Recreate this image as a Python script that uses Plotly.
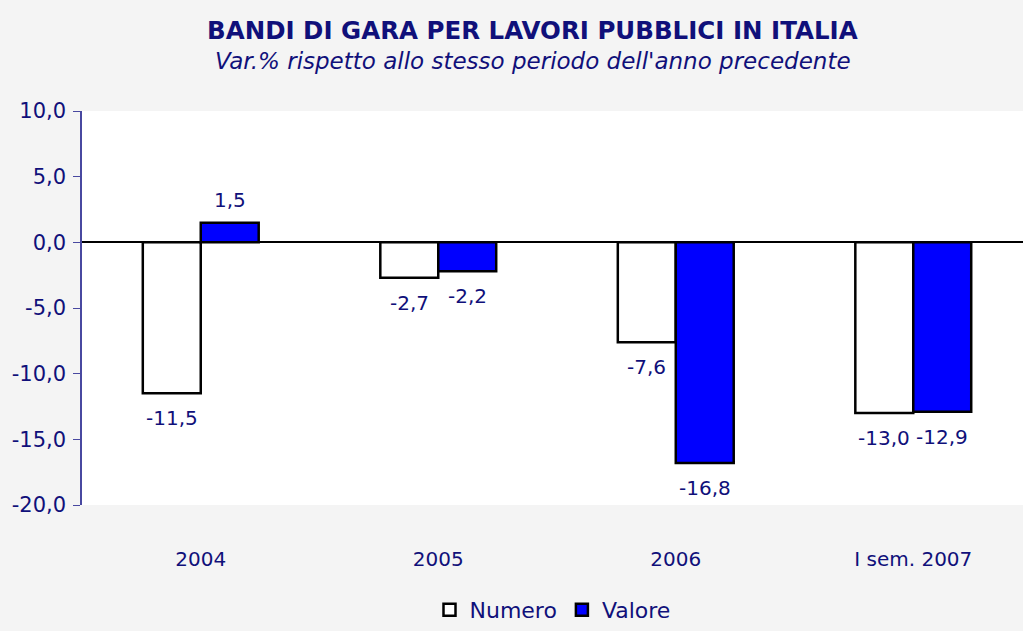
import plotly.graph_objects as go

categories = ["2004", "2005", "2006", "I sem. 2007"]
numero = [-11.5, -2.7, -7.6, -13.0]
valore = [1.5, -2.2, -16.8, -12.9]
y_ticks = [10, 5, 0, -5, -10, -15, -20]
y_tick_labels = ["10,0", "5,0", "0,0", "-5,0", "-10,0", "-15,0", "-20,0"]

NAVY = "#10107a"
FONT = "DejaVu Sans, Verdana, sans-serif"

fig = go.Figure()
fig.add_trace(go.Bar(
    x=categories, y=numero, name="Numero",
    marker=dict(color="white", line=dict(color="black", width=2.5)),
))
fig.add_trace(go.Bar(
    x=categories, y=valore, name="Valore",
    marker=dict(color="#0000ff", line=dict(color="black", width=2.5)),
))

# data labels (x given as category index)
for series, xshift in ((numero, -29), (valore, 29)):
    for i, v in enumerate(series):
        fig.add_annotation(
            x=i, y=v, xref="x", yref="y", showarrow=False,
            text=f"{v:.1f}".replace(".", ","),
            xshift=xshift, yshift=(23 if v >= 0 else -25), yanchor="middle",
            font=dict(size=20, color=NAVY, family=FONT),
        )

fig.add_annotation(
    x=0.479, y=1.205, xref="paper", yref="paper", showarrow=False,
    text="<b>BANDI DI GARA PER LAVORI PUBBLICI IN ITALIA</b>",
    font=dict(size=24.5, color=NAVY, family=FONT), yanchor="middle",
)
fig.add_annotation(
    x=0.479, y=1.127, xref="paper", yref="paper", showarrow=False,
    text="<i>Var.% rispetto allo stesso periodo dell'anno precedente</i>",
    font=dict(size=23, color=NAVY, family=FONT), yanchor="middle",
)

fig.update_layout(
    width=1023, height=631,
    separators=",.",
    barmode="group", bargap=0.512, bargroupgap=0,
    paper_bgcolor="#f4f4f4", plot_bgcolor="white",
    margin=dict(l=82, r=0, t=111, b=126, autoexpand=False),
    font=dict(family=FONT, color=NAVY),
    legend=dict(
        orientation="h", x=0.5, xanchor="center",
        yref="container", y=0.0, yanchor="bottom",
        font=dict(size=22, color=NAVY, family=FONT),
        bgcolor="rgba(0,0,0,0)", traceorder="normal",
    ),
    showlegend=True,
)
fig.update_xaxes(
    range=[-0.5, 3.462], showgrid=False, showline=False, ticks="",
    tickfont=dict(size=20, color=NAVY, family=FONT), ticklabelstandoff=40,
)
fig.update_yaxes(
    range=[-20, 10], tickvals=y_ticks, ticktext=y_tick_labels,
    showgrid=False, showline=True, linecolor="#4848a0", linewidth=1.5,
    ticks="outside", ticklen=7, tickcolor="#4848a0",
    tickfont=dict(size=21, color=NAVY, family=FONT), ticklabelstandoff=3,
    zeroline=True, zerolinecolor="black", zerolinewidth=1.5,
)

fig.write_html("out.html", config={"displayModeBar": False},
               post_script="document.body.style.margin='0';")
